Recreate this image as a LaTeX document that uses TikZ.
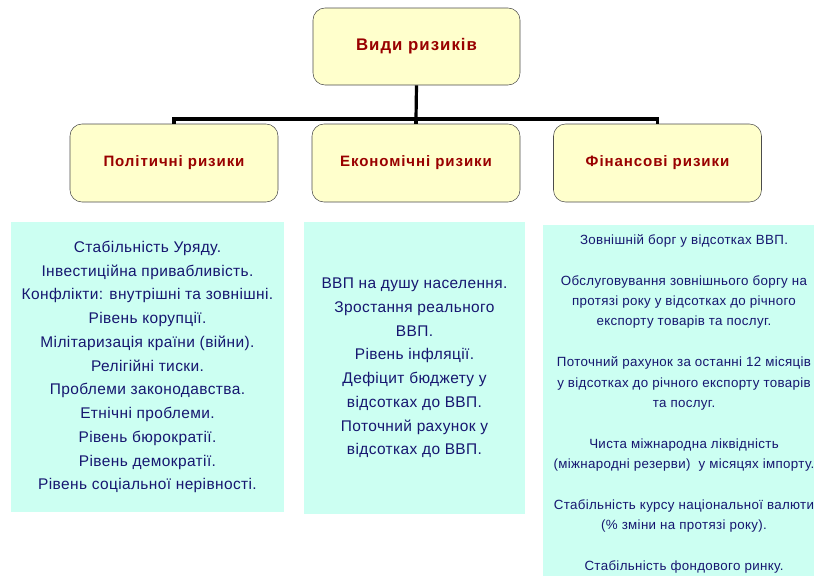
\documentclass[tikz,border=0pt]{standalone}
\usepackage{fontspec}
\setmainfont{Liberation Sans}
\newfontfamily\spacedfont[LetterSpace=6]{Liberation Sans}
\newfontfamily\listfont[LetterSpace=2.5]{Liberation Sans}
\definecolor{boxfill}{RGB}{255,255,204}
\definecolor{panelfill}{RGB}{204,255,242}
\definecolor{titlered}{RGB}{153,0,0}
\definecolor{textblue}{RGB}{22,22,112}
\tikzset{
  riskbox/.style={draw=black!70, fill=boxfill, rounded corners=9pt,
    minimum width=156pt, minimum height=58.5pt, inner sep=0pt,
    text=titlered, font=\spacedfont\bfseries\fontsize{11.3}{13}\selectfont},
  panel/.style={fill=panelfill, inner sep=0pt, align=center, text=textblue},
  bus/.style={line width=2.4pt}
}
\begin{document}
\begin{tikzpicture}[x=0.75pt,y=-0.75pt]
    \useasboundingbox (0,0) rectangle (814,576);
    % top
    \node[riskbox, minimum width=155.25pt, minimum height=57.75pt,
      font=\spacedfont\bfseries\fontsize{12.6}{14}\selectfont] (types) at (416.5,46.5) {Види ризиків};
    % kinds
    \node[riskbox] (pol) at (174,163) {Політичні ризики};
    \node[riskbox] (eco) at (416,163) {Економічні ризики};
    \node[riskbox] (fin) at (657.5,163) {Фінансові ризики};
    \coordinate (fork) at (416,119);
    \draw[bus] (types.south) -- (fork);
    \draw[bus] (fork) -| (pol.north);
    \draw[bus] (fork) -- (eco.north);
    \draw[bus] (fork) -| (fin.north);
    % lists
    \node[panel, minimum width=204.75pt, minimum height=217.5pt,
      font=\listfont\fontsize{11.6}{17.8}\selectfont] (polList) at (147.5,367) {%
      Стабільність Уряду.\\
      Інвестиційна привабливість.\\
      Конфлікти: внутрішні та зовнішні.\\
      Рівень корупції.\\
      Мілітаризація країни (війни).\\
      Релігійні тиски.\\
      Проблеми законодавства.\\
      Етнічні проблеми.\\
      Рівень бюрократії.\\
      Рівень демократії.\\
      Рівень соціальної нерівності.};
    \node[panel, minimum width=165.75pt, minimum height=219pt,
      font=\listfont\fontsize{11.6}{17.8}\selectfont] (ecoList) at (414.5,368) {%
      ВВП на душу населення.\\
      Зростання реального\\
      ВВП.\\
      Рівень інфляції.\\
      Дефіцит бюджету у\\
      відсотках до ВВП.\\
      Поточний рахунок у\\
      відсотках до ВВП.};
    \fill[panelfill] (543,225) rectangle (814,576);
    \node[panel, fill=none, font=\listfont\fontsize{10}{15.3}\selectfont] (finList) at (684,404) {%
      Зовнішній борг у відсотках ВВП.\\[15.3pt]
      Обслуговування зовнішнього боргу на\\
      протязі року у відсотках до річного\\
      експорту товарів та послуг.\\[15.3pt]
      Поточний рахунок за останні 12 місяців\\
      у відсотках до річного експорту товарів\\
      та послуг.\\[15.3pt]
      Чиста міжнародна ліквідність\\
      (міжнародні резерви)\ \ у місяцях імпорту.\\[15.3pt]
      Стабільність курсу національної валюти\\
      (\% зміни на протязі року).\\[15.3pt]
      Стабільність фондового ринку.};
\end{tikzpicture}
\end{document}
